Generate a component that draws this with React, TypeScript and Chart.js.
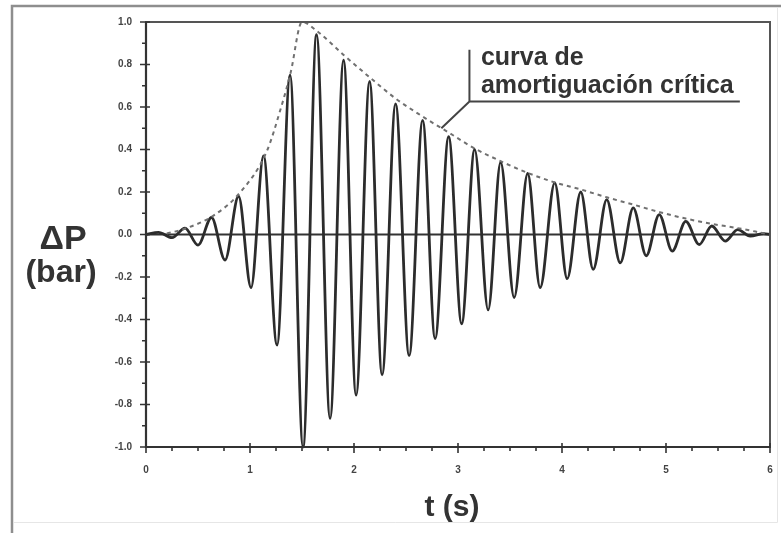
import React, { useEffect, useRef } from 'react';
import { Chart, registerables } from 'chart.js';

Chart.register(...registerables);

// Oscillation: alternating extrema (t in s, ΔP in bar)
const waveTimes = [
  0.0, 0.12, 0.25, 0.375, 0.5, 0.63, 0.76, 0.89, 1.01, 1.13, 1.26, 1.385, 1.51,
  1.64, 1.77, 1.9, 2.02, 2.15, 2.27, 2.4, 2.53, 2.66, 2.78, 2.91, 3.035, 3.16,
  3.29, 3.41, 3.54, 3.67, 3.79, 3.93, 4.05, 4.18, 4.3, 4.43, 4.56, 4.685, 4.81,
  4.935, 5.06, 5.19, 5.32, 5.44, 5.57, 5.69, 5.81, 5.94, 6.0,
];
const waveValues = [
  0.0, 0.01, -0.015, 0.03, -0.05, 0.08, -0.12, 0.18, -0.25, 0.37, -0.52, 0.75, -1.0,
  0.94, -0.865, 0.82, -0.756, 0.72, -0.66, 0.615, -0.57, 0.537, -0.49, 0.46, -0.42, 0.4,
  -0.355, 0.34, -0.297, 0.287, -0.25, 0.243, -0.208, 0.2, -0.164, 0.164, -0.133, 0.125, -0.1,
  0.094, -0.078, 0.062, -0.047, 0.04, -0.031, 0.023, -0.008, 0.004, 0.0,
];

// Critical damping envelope (dashed)
const envTimes = [
  0.2, 0.36, 0.645, 0.9, 1.16, 1.3, 1.39, 1.5, 1.65, 1.9, 2.15, 2.4, 2.66, 2.91,
  3.16, 3.41, 3.67, 3.93, 4.18, 4.43, 4.69, 4.94, 5.19, 5.44, 5.69, 5.95,
];
const envValues = [
  0.005, 0.025, 0.088, 0.195, 0.39, 0.6, 0.76, 1.0, 0.955, 0.845, 0.74, 0.64, 0.555, 0.48,
  0.405, 0.345, 0.29, 0.245, 0.212, 0.175, 0.14, 0.105, 0.075, 0.05, 0.03, 0.005,
];

const xTickValues = [0, 1, 2, 3, 4, 5, 6];
const yTickValues = [-1, -0.8, -0.6, -0.4, -0.2, 0, 0.2, 0.4, 0.6, 0.8, 1];

const annotationLines = ['curva de', 'amortiguación crítica'];
const yTitleLines = ['ΔP', '(bar)'];
const xTitle = 't (s)';

// annotation geometry in data coordinates
const leader = { tipT: 2.84, tipV: 0.5, elbowT: 3.11, elbowV: 0.626, topV: 0.869, endT: 5.71 };
const labelPos = { t: 3.22, v1: 0.798, v2: 0.667 };

const FONT = '"Liberation Sans", Arial, sans-serif';

const decorPlugin = {
  id: 'decor',
  beforeDraw(chart: any) {
    const { ctx, width, height } = chart;
    ctx.save();
    ctx.fillStyle = '#ffffff';
    ctx.fillRect(0, 0, width, height);
    ctx.strokeStyle = '#8e8e8e';
    ctx.lineWidth = 2.5;
    ctx.beginPath();
    ctx.moveTo(12, height);
    ctx.lineTo(12, 6);
    ctx.lineTo(width, 6);
    ctx.stroke();
    ctx.strokeStyle = '#e6e6e6';
    ctx.lineWidth = 1;
    ctx.beginPath();
    ctx.moveTo(14, 522.5);
    ctx.lineTo(777.5, 522.5);
    ctx.lineTo(777.5, 8);
    ctx.stroke();
    ctx.restore();
  },
  beforeDatasetsDraw(chart: any) {
    const { ctx, chartArea, scales } = chart;
    const y0 = scales.y.getPixelForValue(0);
    ctx.save();
    ctx.strokeStyle = '#333';
    ctx.lineWidth = 2;
    ctx.beginPath();
    ctx.moveTo(chartArea.left, y0);
    ctx.lineTo(chartArea.right, y0);
    ctx.stroke();
    ctx.restore();
  },
  afterDraw(chart: any) {
    const { ctx, chartArea, scales } = chart;
    const x = scales.x;
    const y = scales.y;
    const { left, right, top, bottom } = chartArea;
    ctx.save();
    // plot frame
    ctx.strokeStyle = '#555';
    ctx.lineWidth = 2;
    ctx.strokeRect(left, top, right - left, bottom - top);
    ctx.strokeStyle = '#333';
    ctx.lineWidth = 2.2;
    ctx.beginPath();
    ctx.moveTo(left, top);
    ctx.lineTo(left, bottom);
    ctx.lineTo(right, bottom);
    ctx.stroke();
    // ticks
    ctx.lineWidth = 1.6;
    ctx.beginPath();
    for (let i = 0; i < xTickValues.length; i++) {
      const v = xTickValues[i];
      const px = x.getPixelForValue(v);
      ctx.moveTo(px, bottom - 4);
      ctx.lineTo(px, bottom + 6);
      if (i < xTickValues.length - 1) {
        const step = (xTickValues[i + 1] - v) / 4;
        for (let k = 1; k < 4; k++) {
          const pm = x.getPixelForValue(v + k * step);
          ctx.moveTo(pm, bottom);
          ctx.lineTo(pm, bottom + 4);
        }
      }
    }
    for (let i = 0; i < yTickValues.length; i++) {
      const v = yTickValues[i];
      const py = y.getPixelForValue(v);
      ctx.moveTo(left - 6, py);
      ctx.lineTo(left + 4, py);
      if (i < yTickValues.length - 1) {
        const pm = y.getPixelForValue((v + yTickValues[i + 1]) / 2);
        ctx.moveTo(left - 4, pm);
        ctx.lineTo(left, pm);
      }
    }
    ctx.stroke();

    // annotation leader
    ctx.strokeStyle = '#444';
    ctx.lineWidth = 2;
    ctx.beginPath();
    ctx.moveTo(x.getPixelForValue(leader.tipT), y.getPixelForValue(leader.tipV));
    ctx.lineTo(x.getPixelForValue(leader.elbowT), y.getPixelForValue(leader.elbowV));
    ctx.lineTo(x.getPixelForValue(leader.endT), y.getPixelForValue(leader.elbowV));
    ctx.moveTo(x.getPixelForValue(leader.elbowT), y.getPixelForValue(leader.elbowV));
    ctx.lineTo(x.getPixelForValue(leader.elbowT), y.getPixelForValue(leader.topV));
    ctx.stroke();
    ctx.fillStyle = '#333';
    ctx.font = `bold 25px ${FONT}`;
    ctx.textAlign = 'left';
    ctx.textBaseline = 'alphabetic';
    const tx = x.getPixelForValue(labelPos.t);
    ctx.fillText(annotationLines[0], tx, y.getPixelForValue(labelPos.v1));
    ctx.fillText(annotationLines[1], tx, y.getPixelForValue(labelPos.v2));

    // y title (horizontal, two lines)
    ctx.textAlign = 'center';
    ctx.textBaseline = 'middle';
    ctx.font = `bold 34px ${FONT}`;
    ctx.fillText(yTitleLines[0], 63, 240);
    ctx.font = `bold 32px ${FONT}`;
    ctx.fillText(yTitleLines[1], 61, 273);
    // x title
    ctx.font = `bold 30px ${FONT}`;
    ctx.fillText(xTitle, 452, 508);
    ctx.restore();
  },
};

export default function App() {
  const ref = useRef<HTMLCanvasElement>(null);
  useEffect(() => {
    const wave = waveTimes.map((t, i) => ({ x: t, y: waveValues[i] }));
    const env = envTimes.map((t, i) => ({ x: t, y: envValues[i] }));
    const tickFont = { family: FONT, size: 10, weight: 'bold' as const };
    const chart = new Chart(ref.current!, {
      type: 'line',
      data: {
        datasets: [
          {
            data: env,
            borderColor: '#707070',
            borderWidth: 2,
            borderDash: [4, 4],
            pointRadius: 0,
            cubicInterpolationMode: 'monotone',
            fill: false,
            clip: false as any,
          },
          {
            data: wave,
            borderColor: '#2c2c2c',
            borderWidth: 2.8,
            pointRadius: 0,
            cubicInterpolationMode: 'monotone',
            fill: false,
            clip: false as any,
          },
        ],
      },
      options: {
        responsive: false,
        animation: false,
        devicePixelRatio: 1,
        layout: { padding: { left: 0, right: 11, top: 22, bottom: 0 } },
        plugins: { legend: { display: false }, tooltip: { enabled: false } },
        scales: {
          x: {
            type: 'linear',
            min: 0,
            max: 6,
            afterBuildTicks: (s: any) => {
              s.ticks = xTickValues.map((v) => ({ value: v }));
            },
            afterFit: (s: any) => {
              s.height = 86;
              s.paddingLeft = 0;
              s.paddingRight = 0;
            },
            grid: { display: false, drawTicks: false },
            border: { display: false },
            ticks: { font: tickFont, color: '#444', padding: 17, maxRotation: 0, callback: (v: any) => String(v) },
            title: { display: false },
          },
          y: {
            type: 'linear',
            min: -1,
            max: 1,
            afterBuildTicks: (s: any) => {
              s.ticks = yTickValues.map((v) => ({ value: v }));
            },
            afterFit: (s: any) => {
              s.width = 146;
              s.paddingTop = 0;
              s.paddingBottom = 0;
            },
            grid: { display: false, drawTicks: false },
            border: { display: false },
            ticks: { font: tickFont, color: '#444', padding: 14, callback: (v: any) => Number(v).toFixed(1) },
          },
        },
      },
      plugins: [decorPlugin],
    } as any);
    return () => chart.destroy();
  }, []);
  return (
    <div style={{ position: 'absolute', left: 0, top: 0, width: 781, height: 533 }}>
      <canvas ref={ref} width={781} height={533} style={{ display: 'block', width: 781, height: 533 }} />
    </div>
  );
}
